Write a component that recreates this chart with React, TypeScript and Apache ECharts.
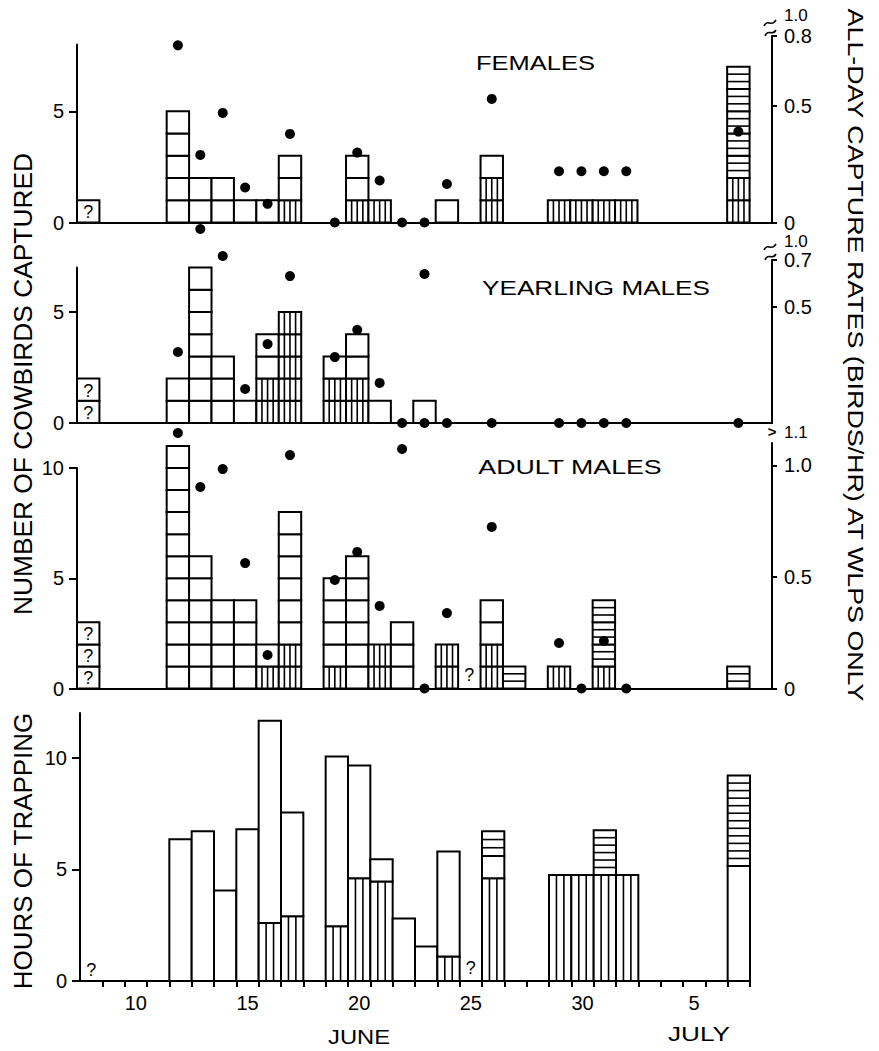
import React, { useEffect, useRef } from 'react';
import * as echarts from 'echarts';

// ---------- DATA ----------
// Panel 1: FEMALES (cells per day: unknown "?", vertical-hatched, open, horizontal-hatched)
const femDays = [8, 12, 13, 14, 15, 16, 17, 20, 21, 24, 26, 29, 30, 31, 32, 37];
const femUnknown = [1, 0, 0, 0, 0, 0, 0, 0, 0, 0, 0, 0, 0, 0, 0, 0];
const femVertical = [0, 0, 0, 0, 0, 0, 1, 1, 1, 0, 2, 1, 1, 1, 1, 2];
const femOpen = [0, 5, 2, 2, 1, 1, 2, 2, 0, 1, 1, 0, 0, 0, 0, 0];
const femHorizontal = [0, 0, 0, 0, 0, 0, 0, 0, 0, 0, 0, 0, 0, 0, 0, 5];
const femRateDays = [12, 13, 14, 15, 16, 17, 19, 20, 21, 22, 23, 24, 26, 29, 30, 31, 32, 37];
const femRates = [0.76, 0.29, 0.47, 0.15, 0.08, 0.38, 0, 0.3, 0.18, 0, 0, 0.165, 0.53, 0.22, 0.22, 0.22, 0.22, 0.39];

// Panel 2: YEARLING MALES
const ylgDays = [8, 12, 13, 14, 15, 16, 17, 19, 20, 21, 23];
const ylgUnknown = [2, 0, 0, 0, 0, 0, 0, 0, 0, 0, 0];
const ylgVertical = [0, 0, 0, 0, 0, 2, 5, 2, 2, 0, 0];
const ylgOpen = [0, 2, 7, 3, 1, 2, 0, 1, 2, 1, 1];
const ylgHorizontal = [0, 0, 0, 0, 0, 0, 0, 0, 0, 0, 0];
const ylgRateDays = [12, 13, 14, 15, 16, 17, 19, 20, 21, 22, 23, 23, 24, 26, 29, 30, 31, 32, 37];
const ylgRates = [0.305, 0.833, 0.717, 0.146, 0.339, 0.631, 0.283, 0.4, 0.172, 0, 0, 0.64, 0, 0, 0, 0, 0, 0, 0];

// Panel 3: ADULT MALES
const adtDays = [8, 12, 13, 14, 15, 16, 17, 19, 20, 21, 22, 24, 26, 27, 29, 31, 37];
const adtUnknown = [3, 0, 0, 0, 0, 0, 0, 0, 0, 0, 0, 0, 0, 0, 0, 0, 0];
const adtVertical = [0, 0, 0, 0, 0, 1, 2, 1, 0, 2, 0, 2, 2, 0, 1, 1, 0];
const adtOpen = [0, 11, 6, 4, 4, 1, 6, 4, 6, 0, 3, 0, 2, 0, 0, 0, 0];
const adtHorizontal = [0, 0, 0, 0, 0, 0, 0, 0, 0, 0, 0, 0, 0, 1, 0, 3, 1];
const adtRateDays = [12, 13, 14, 15, 16, 17, 19, 20, 21, 22, 23, 24, 26, 29, 30, 31, 32];
const adtRates = [1.145, 0.903, 0.983, 0.562, 0.15, 1.046, 0.486, 0.612, 0.37, 1.073, 0, 0.338, 0.724, 0.204, 0, 0.213, 0];
const adtQueryDays = [25];
const adtQueryValues = [0.6];

// Panel 4: HOURS OF TRAPPING (hours per segment)
const hrsDays = [12, 13, 14, 15, 16, 17, 19, 20, 21, 22, 23, 24, 26, 29, 30, 31, 32, 37];
const hrsVertical = [0, 0, 0, 0, 2.6, 2.9, 2.45, 4.6, 4.45, 0, 0, 1.1, 4.6, 4.75, 4.75, 4.75, 4.75, 0];
const hrsOpen = [6.35, 6.7, 4.05, 6.8, 9.05, 4.65, 7.6, 5.05, 1.0, 2.8, 1.55, 4.7, 1.0, 0, 0, 0, 0, 5.15];
const hrsHorizontal = [0, 0, 0, 0, 0, 0, 0, 0, 0, 0, 0, 0, 1.1, 0, 0, 2.0, 0, 4.05];
const hrsQueryDays = [8, 25];
const hrsQueryValues = [0.5, 0.6];

// Tick labels
const xLabelValues = [10, 15, 20, 25, 30, 35];
const xLabelTexts = ['10', '15', '20', '25', '30', '5'];
const countTicks = [0, 5, 10];
const femRateTicks = [0, 0.5, 0.8];
const ylgRateTicks = [0.5, 0.7];
const adtRateTicks = [0, 0.5, 1.0];

// ---------- HELPERS ----------
const FONT = '"Liberation Sans", Arial, Helvetica, sans-serif';
const KIND_OPEN = 0, KIND_VERT = 1, KIND_HORIZ = 2, KIND_UNKNOWN = 3, KIND_QUERY = 4;

function buildCells(days: number[], unknown: number[], vert: number[], open: number[], horiz: number[]) {
  const out: number[][] = [];
  days.forEach((d, i) => {
    let y = 0;
    const push = (n: number, kind: number) => {
      for (let k = 0; k < n; k++) {
        out.push([d - 0.5, d + 0.5, y, y + 1, kind]);
        y += 1;
      }
    };
    push(unknown[i], KIND_UNKNOWN);
    push(vert[i], KIND_VERT);
    push(open[i], KIND_OPEN);
    push(horiz[i], KIND_HORIZ);
  });
  return out;
}

function buildSegments(days: number[], vert: number[], open: number[], horiz: number[]) {
  const out: number[][] = [];
  days.forEach((d, i) => {
    let y = 0;
    const push = (v: number, kind: number) => {
      if (v > 0) {
        out.push([d - 0.5, d + 0.5, y, y + v, kind]);
        y += v;
      }
    };
    push(vert[i], KIND_VERT);
    push(open[i], KIND_OPEN);
    push(horiz[i], KIND_HORIZ);
  });
  return out;
}

function queryMarks(days: number[], vals: number[]) {
  return days.map((d, i) => [d - 0.5, d + 0.5, vals[i], vals[i], KIND_QUERY]);
}

function makeRender(vertLines: number) {
  return (params: any, api: any) => {
    const x0 = api.value(0), x1 = api.value(1), y0 = api.value(2), y1 = api.value(3), kind = api.value(4);
    const p0 = api.coord([x0, y0]);
    const p1 = api.coord([x1, y1]);
    const left = p0[0], right = p1[0], bottom = p0[1], top = p1[1];
    const w = right - left, h = bottom - top;
    const children: any[] = [];
    if (kind === KIND_QUERY) {
      children.push({
        type: 'text', x: (left + right) / 2, y: bottom,
        style: { text: '?', fill: '#000', font: `18px ${FONT}`, align: 'center', verticalAlign: 'middle' },
      });
      return { type: 'group', children };
    }
    children.push({
      type: 'rect', shape: { x: left, y: top, width: w, height: h },
      style: { fill: '#fff', stroke: '#000', lineWidth: 2 },
    });
    if (kind === KIND_VERT) {
      for (let k = 1; k <= vertLines; k++) {
        const x = left + (k * w) / (vertLines + 1);
        children.push({ type: 'line', shape: { x1: x, y1: top, x2: x, y2: bottom }, style: { stroke: '#000', lineWidth: 1.6 } });
      }
    }
    if (kind === KIND_HORIZ) {
      const n = Math.max(1, Math.round(h / 7.4));
      for (let k = 1; k < n; k++) {
        const y = top + (k * h) / n;
        children.push({ type: 'line', shape: { x1: left, y1: y, x2: right, y2: y }, style: { stroke: '#000', lineWidth: 1.6 } });
      }
    }
    if (kind === KIND_UNKNOWN) {
      children.push({
        type: 'text', x: (left + right) / 2, y: (top + bottom) / 2 + 1,
        style: { text: '?', fill: '#000', font: `18px ${FONT}`, align: 'center', verticalAlign: 'middle' },
      });
    }
    return { type: 'group', children };
  };
}

function fitScale(text: string, font: string, target: number) {
  const ctx = document.createElement('canvas').getContext('2d');
  if (!ctx) return 1;
  ctx.font = font;
  const w = ctx.measureText(text).width;
  return w > 0 ? target / w : 1;
}

const axisLineStyle = { color: '#000', width: 2 };
const labelStyle = { color: '#000', fontSize: 20, fontFamily: FONT };

function leftY(gridIndex: number, max: number, ticks: number[]) {
  return {
    type: 'value', gridIndex, position: 'left', min: 0, max,
    axisLine: { show: true, lineStyle: axisLineStyle },
    axisTick: { show: true, length: 8, lineStyle: axisLineStyle, customValues: ticks.filter((t) => t <= max) },
    axisLabel: { ...labelStyle, margin: 13, customValues: ticks.filter((t) => t <= max), formatter: (v: number) => String(v) },
    splitLine: { show: false },
  };
}

function rightY(gridIndex: number, max: number, ticks: number[]) {
  return {
    type: 'value', gridIndex, position: 'right', min: 0, max,
    axisLine: { show: true, lineStyle: axisLineStyle },
    axisTick: { show: true, length: 5, lineStyle: axisLineStyle, customValues: ticks },
    axisLabel: { ...labelStyle, margin: 12, customValues: ticks, formatter: (v: number) => (v === 0 ? '0' : v.toFixed(1)) },
    splitLine: { show: false },
  };
}

function topX(gridIndex: number, show: boolean) {
  return {
    type: 'value', gridIndex, min: 7.5, max: 38.5, show,
    axisLine: { show: true, onZero: false, lineStyle: axisLineStyle },
    axisTick: { show: false }, axisLabel: { show: false }, splitLine: { show: false },
  };
}

function buildOption() {
  const grids = [
    { left: 77, top: 44.5, width: 695, height: 178 },
    { left: 77, top: 36, width: 695, height: 186.5 },
    { left: 77, top: 267.6, width: 695, height: 155.4 },
    { left: 77, top: 260, width: 695, height: 163 },
    { left: 77, top: 468, width: 695, height: 220.5 },
    { left: 77, top: 443, width: 695, height: 245.5 },
    { left: 80, top: 713, width: 670, height: 268 },
  ].map((g) => ({ ...g, containLabel: false, outerBoundsMode: 'none' }));

  const boundaryTicks: number[] = [];
  for (let d = 8; d <= 37; d++) boundaryTicks.push(d + 0.5);

  const xAxis = [
    topX(0, true), topX(1, false), topX(2, true), topX(3, false), topX(4, true), topX(5, false),
    {
      type: 'value', gridIndex: 6, min: 7.5, max: 37.5,
      axisLine: { show: true, onZero: false, lineStyle: axisLineStyle },
      axisTick: { show: true, length: 6, lineStyle: axisLineStyle, customValues: boundaryTicks },
      axisLabel: {
        ...labelStyle, margin: 12, customValues: xLabelValues,
        formatter: (v: number) => xLabelTexts[xLabelValues.indexOf(v)] ?? '',
      },
      splitLine: { show: false },
    },
  ];

  const yAxis = [
    leftY(0, 8, countTicks), rightY(1, 0.8, femRateTicks),
    leftY(2, 7, countTicks), rightY(3, 0.7, ylgRateTicks),
    leftY(4, 10, countTicks), rightY(5, 1.1, adtRateTicks),
    leftY(6, 12, countTicks),
  ];

  const custom = (idx: number, data: number[][], vertLines: number) => ({
    type: 'custom', xAxisIndex: idx, yAxisIndex: idx, renderItem: makeRender(vertLines),
    encode: { x: [0, 1], y: [2, 3] }, data, clip: false, z: 2,
  });
  const dots = (idx: number, days: number[], rates: number[]) => ({
    type: 'scatter', xAxisIndex: idx, yAxisIndex: idx, symbol: 'circle', symbolSize: 10,
    itemStyle: { color: '#000', opacity: 1 }, data: days.map((d, i) => [d, rates[i]]), clip: false, z: 5,
  });

  const series = [
    custom(0, buildCells(femDays, femUnknown, femVertical, femOpen, femHorizontal), 3),
    dots(1, femRateDays, femRates),
    custom(2, buildCells(ylgDays, ylgUnknown, ylgVertical, ylgOpen, ylgHorizontal), 3),
    dots(3, ylgRateDays, ylgRates),
    custom(4, buildCells(adtDays, adtUnknown, adtVertical, adtOpen, adtHorizontal).concat(queryMarks(adtQueryDays, adtQueryValues)), 3),
    dots(5, adtRateDays, adtRates),
    custom(6, buildSegments(hrsDays, hrsVertical, hrsOpen, hrsHorizontal).concat(queryMarks(hrsQueryDays, hrsQueryValues)), 2),
  ];

  const titleFont = `21px ${FONT}`;
  const bigFont = `25px ${FONT}`;
  const rightFont = `22px ${FONT}`;
  const breakFont = `17px ${FONT}`;
  const txt = (text: string, x: number, y: number, font: string, width: number, rotation = 0) => ({
    type: 'text', x, y, rotation, scaleX: fitScale(text, font, width),
    style: { text, font, fill: '#000', align: 'center', verticalAlign: 'middle' },
  });
  const stroke = { stroke: '#000', lineWidth: 1.6, fill: null };

  const graphic = [
    txt('FEMALES', 535.5, 63, titleFont, 119),
    txt('YEARLING MALES', 596, 288, titleFont, 228),
    txt('ADULT MALES', 570, 467, titleFont, 184),
    txt('NUMBER OF COWBIRDS CAPTURED', 23, 384, bigFont, 462, Math.PI / 2),
    txt('HOURS OF TRAPPING', 23, 851, bigFont, 277, Math.PI / 2),
    txt('ALL-DAY CAPTURE RATES (BIRDS/HR) AT WLPS ONLY', 856, 355, rightFont, 696, -Math.PI / 2),
    txt('JUNE', 359, 1037, titleFont, 62),
    txt('JULY', 699, 1034, titleFont, 62),
    { type: 'text', x: 784, y: 15, style: { text: '1.0', font: breakFont, fill: '#000', align: 'left', verticalAlign: 'middle' } },
    { type: 'text', x: 784, y: 241, style: { text: '1.0', font: breakFont, fill: '#000', align: 'left', verticalAlign: 'middle' } },
    { type: 'text', x: 784, y: 432, style: { text: '1.1', font: breakFont, fill: '#000', align: 'left', verticalAlign: 'middle' } },
    { type: 'text', x: 772, y: 431, style: { text: '>', font: `bold 15px ${FONT}`, fill: '#000', align: 'center', verticalAlign: 'middle' } },
    { type: 'bezierCurve', shape: { x1: 764, y1: 26, cpx1: 768, cpy1: 18, cpx2: 771, cpy2: 28, x2: 776, y2: 20 }, style: stroke },
    { type: 'bezierCurve', shape: { x1: 765, y1: 36, cpx1: 768, cpy1: 28, cpx2: 772, cpy2: 37, x2: 776, y2: 30 }, style: stroke },
    { type: 'bezierCurve', shape: { x1: 764, y1: 250, cpx1: 768, cpy1: 242, cpx2: 771, cpy2: 252, x2: 776, y2: 244 }, style: stroke },
    { type: 'bezierCurve', shape: { x1: 765, y1: 260, cpx1: 768, cpy1: 252, cpx2: 772, cpy2: 261, x2: 776, y2: 254 }, style: stroke },
  ];

  return { animation: false, backgroundColor: '#fff', grid: grids, xAxis, yAxis, series, graphic };
}

export default function App() {
  const ref = useRef<HTMLDivElement>(null);
  useEffect(() => {
    if (!ref.current) return;
    const chart = echarts.init(ref.current, null, { renderer: 'svg' });
    chart.setOption(buildOption() as any);
    return () => chart.dispose();
  }, []);
  return (
    <div
      ref={ref}
      style={{ position: 'absolute', left: 0, top: 0, width: 879, height: 1051, background: '#fff' }}
    />
  );
}
